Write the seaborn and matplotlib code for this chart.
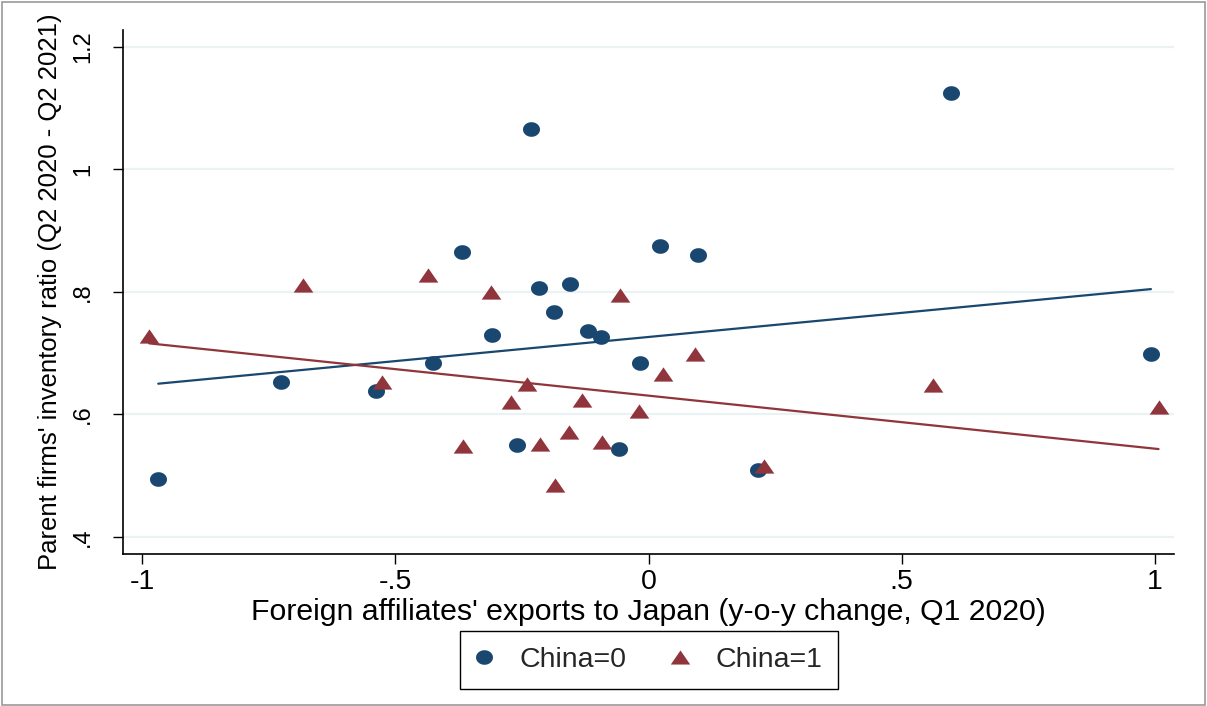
import numpy as np
import pandas as pd
import matplotlib
matplotlib.use("Agg")
import matplotlib.pyplot as plt
from matplotlib.lines import Line2D
from matplotlib.patches import Rectangle
import seaborn as sns

# Foreign affiliates' export change (x) and parent inventory ratio (y)
x_china0 = [-0.968, -0.726, -0.538, -0.425, -0.368, -0.309, -0.259, -0.233, -0.216, -0.186,
            -0.155, -0.120, -0.094, -0.059, -0.017, 0.023, 0.098, 0.216, 0.597, 0.992]
y_china0 = [0.495, 0.652, 0.638, 0.683, 0.865, 0.730, 0.549, 1.065, 0.806, 0.767,
            0.812, 0.736, 0.726, 0.544, 0.683, 0.875, 0.860, 0.509, 1.124, 0.699]

x_china1 = [-0.986, -0.683, -0.436, -0.311, -0.527, -0.239, -0.271, -0.131, -0.366, -0.214,
            -0.157, -0.185, -0.057, 0.092, 0.028, -0.019, -0.092, 0.228, 0.561, 1.007]
y_china1 = [0.728, 0.811, 0.827, 0.800, 0.652, 0.650, 0.620, 0.624, 0.548, 0.551,
            0.571, 0.484, 0.794, 0.699, 0.666, 0.606, 0.554, 0.515, 0.648, 0.611]

# Linear fits (intercept, slope) for each group
fit_intercept = [0.7261, 0.6303]
fit_slope = [0.0788, -0.0866]

x_ticks = [-1, -0.5, 0, 0.5, 1]
x_tick_labels = ["-1", "-.5", "0", ".5", "1"]
y_ticks = [0.4, 0.6, 0.8, 1.0, 1.2]
y_tick_labels = [".4", ".6", ".8", "1", "1.2"]
group_labels = ["China=0", "China=1"]

NAVY = "#1a476f"
MAROON = "#90353b"
GRID = "#eaf2f3"

sns.set_theme(style="white")
plt.rcParams["font.family"] = ["Liberation Sans", "DejaVu Sans"]

df = pd.concat([
    pd.DataFrame({"x": x_china0, "y": y_china0, "China": 0}),
    pd.DataFrame({"x": x_china1, "y": y_china1, "China": 1}),
], ignore_index=True)

# Fitted lines spanning each group's x range
fit_rows = []
for grp in (0, 1):
    xs = df.loc[df["China"] == grp, "x"]
    for xv in (xs.min(), xs.max()):
        fit_rows.append({"x": xv, "y": fit_intercept[grp] + fit_slope[grp] * xv, "China": grp})
fit_df = pd.DataFrame(fit_rows)

# Slightly flattened circle and triangle markers
t = np.linspace(0, 2 * np.pi, 72)
ellipse = list(zip(np.cos(t), 0.86 * np.sin(t)))
triangle = [(-1, -0.725), (1, -0.725), (0, 0.725), (-1, -0.725)]

fig = plt.figure(figsize=(12.07, 7.06), dpi=100)
ax = fig.add_axes([0.1017, 0.2149, 0.8712, 0.7426])

palette = {0: NAVY, 1: MAROON}
sns.lineplot(data=fit_df, x="x", y="y", hue="China", palette=palette, lw=1.6,
             legend=False, ax=ax, zorder=2, sort=True, estimator=None)

for grp, marker, size in [(0, ellipse, 150), (1, triangle, 200)]:
    sub = df[df["China"] == grp]
    sns.scatterplot(data=sub, x="x", y="y", color=palette[grp], marker=marker, s=size,
                    linewidth=0, legend=False, ax=ax, zorder=3)

ax.set_xlim(-1.0381, 1.0381)
ax.set_ylim(0.3713, 1.2273)
ax.set_xticks(x_ticks)
ax.set_xticklabels(x_tick_labels)
ax.set_yticks(y_ticks)
ax.set_yticklabels(y_tick_labels, rotation=90, va="center")

for yv in y_ticks:
    ax.axhline(yv, color=GRID, lw=1.6, zorder=0)

for side in ["top", "right"]:
    ax.spines[side].set_visible(False)
for side in ["left", "bottom"]:
    ax.spines[side].set_color("black")
    ax.spines[side].set_linewidth(1.2)

ax.tick_params(axis="both", direction="out", length=7.5, width=1.0, color="black",
               labelcolor="black", bottom=True, left=True)
ax.tick_params(axis="x", labelsize=20.5, pad=3)
ax.tick_params(axis="y", labelsize=17, pad=13)

ax.set_xlabel("Foreign affiliates' exports to Japan (y-o-y change, Q1 2020)",
              fontsize=21.8, color="black", labelpad=2)
ax.set_ylabel("Parent firms' inventory ratio (Q2 2020 - Q2 2021)",
              fontsize=18.5, color="black")
ax.yaxis.set_label_coords(-0.058, 0.5)

handles = [
    Line2D([], [], ls="none", marker=ellipse, markersize=12.2, color=NAVY, markeredgewidth=0),
    Line2D([], [], ls="none", marker=triangle, markersize=14, color=MAROON, markeredgewidth=0),
]
leg = fig.legend(handles, group_labels, loc="center", bbox_to_anchor=(649 / 1207, 1 - 660 / 706),
                 ncol=2, frameon=True, fancybox=False, framealpha=1, edgecolor="black",
                 fontsize=20.5, handlelength=0.6, handletextpad=0.93, columnspacing=1.6,
                 borderpad=0.55)
leg.get_frame().set_linewidth(1.0)

fig.patches.append(Rectangle((0.002, 0.002), 0.996, 0.995, transform=fig.transFigure,
                             fill=False, edgecolor="#9a9a9a", lw=1.2))

fig.savefig("out.png", dpi=100, facecolor="white")
